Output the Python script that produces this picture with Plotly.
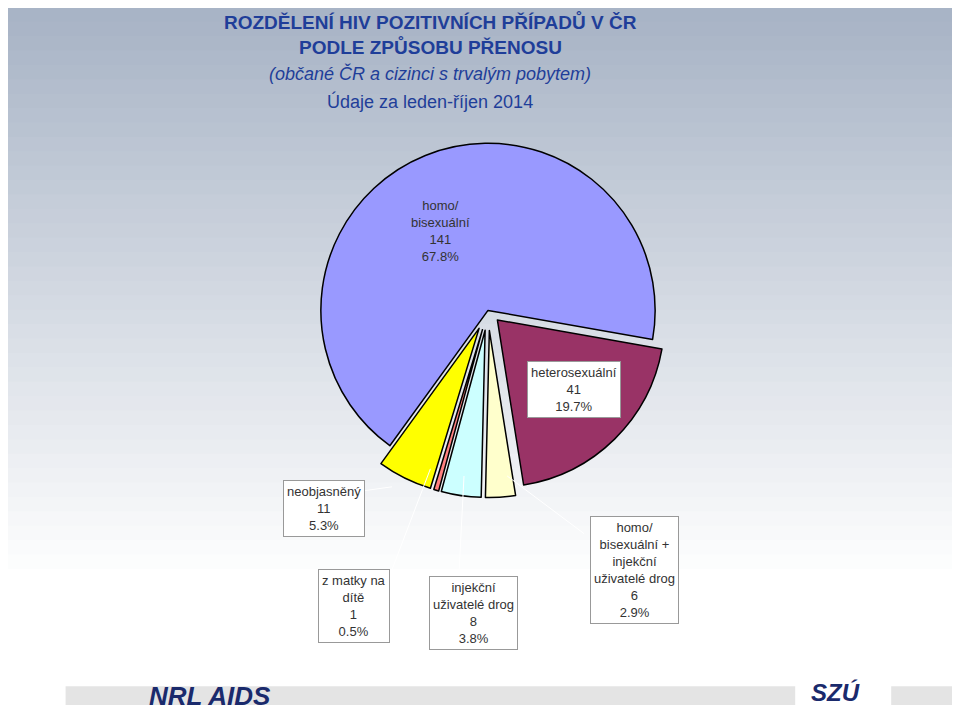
import plotly.graph_objects as go

labels = ["heterosexuální", "homo/bisexuální + injekční uživatelé drog", "injekční uživatelé drog",
          "z matky na dítě", "neobjasněný", "homo/bisexuální"]
values = [41, 6, 8, 1, 11, 141]
percents = ["19.7%", "2.9%", "3.8%", "0.5%", "5.3%", "67.8%"]
colors = ["#993366", "#FFFFCC", "#CCFFFF", "#FF8080", "#FFFF00", "#9999FF"]

fig = go.Figure()
fig.add_trace(go.Pie(labels=labels, values=values, sort=False, direction="clockwise", rotation=100,
                     marker=dict(colors=colors, line=dict(color="black", width=1.5)),
                     pull=[0.08, 0.12, 0.12, 0.12, 0.12, 0],
                     textinfo="none", hoverinfo="label+value+percent", showlegend=False,
                     domain=dict(x=[0.28, 0.72], y=[0.32, 0.84])))

shapes = []
n = 40
for i in range(n):
    t = i / (n - 1)
    r = int(0xA8 + (255 - 0xA8) * t); g = int(0xB4 + (255 - 0xB4) * t); b = int(0xC6 + (255 - 0xC6) * t)
    shapes.append(dict(type="rect", xref="paper", yref="paper", x0=0, x1=1,
                       y0=1 - (i + 1) / n * 0.8, y1=1 - i / n * 0.8 + 0.001,
                       fillcolor=f"rgb({r},{g},{b})", line=dict(width=0), layer="below"))
shapes.append(dict(type="rect", xref="paper", yref="paper", x0=0.06, x1=0.82, y0=0.032, y1=0.058,
                   fillcolor="#E4E4E4", line=dict(width=0), layer="below"))
shapes.append(dict(type="rect", xref="paper", yref="paper", x0=0.92, x1=1, y0=0.032, y1=0.058,
                   fillcolor="#E4E4E4", line=dict(width=0), layer="below"))
for (x0, y0, x1, y1) in [(0.32, 0.32, 0.40, 0.335), (0.40, 0.22, 0.44, 0.36),
                          (0.47, 0.22, 0.475, 0.35), (0.60, 0.27, 0.52, 0.35)]:
    shapes.append(dict(type="line", xref="paper", yref="paper", x0=x0, y0=y0, x1=x1, y1=y1,
                       line=dict(color="white", width=1)))

f = "Arial, Liberation Sans"
ann = [
    dict(x=0.44, y=0.998, text="<b>ROZDĚLENÍ HIV POZITIVNÍCH PŘÍPADŮ V ČR</b>", font=dict(size=19, color="#1F3E99")),
    dict(x=0.44, y=0.964, text="<b>PODLE ZPŮSOBU PŘENOSU</b>", font=dict(size=19, color="#1F3E99")),
    dict(x=0.44, y=0.926, text="<i>(občané ČR a cizinci s trvalým pobytem)</i>", font=dict(size=18, color="#1F3E99")),
    dict(x=0.44, y=0.888, text="Údaje za leden-říjen 2014", font=dict(size=18, color="#1F3E99")),
    dict(x=0.45, y=0.69, text="homo/<br>bisexuální<br>141<br>67.8%", font=dict(size=13, color="#333")),
    dict(x=0.59, y=0.47, text="heterosexuální<br>41<br>19.7%", font=dict(size=13, color="#333"),
         bgcolor="white", bordercolor="#999", borderpad=3),
    dict(x=0.286, y=0.305, text="neobjasněný<br>11<br>5.3%", font=dict(size=13, color="#333"),
         bgcolor="white", bordercolor="#999", borderpad=3),
    dict(x=0.36, y=0.17, text="z matky na<br>dítě<br>1<br>0.5%", font=dict(size=13, color="#333"),
         bgcolor="white", bordercolor="#999", borderpad=3),
    dict(x=0.485, y=0.16, text="injekční<br>uživatelé drog<br>8<br>3.8%", font=dict(size=13, color="#333"),
         bgcolor="white", bordercolor="#999", borderpad=3),
    dict(x=0.653, y=0.22, text="homo/<br>bisexuální +<br>injekční<br>uživatelé drog<br>6<br>2.9%",
         font=dict(size=13, color="#333"), bgcolor="white", bordercolor="#999", borderpad=3),
    dict(x=0.145, y=0.045, text="<b><i>NRL AIDS</i></b>", font=dict(size=26, color="#1A2A6C")),
    dict(x=0.89, y=0.05, text="<b><i>SZÚ</i></b>", font=dict(size=24, color="#1A2A6C")),
]
for a in ann:
    a.update(xref="paper", yref="paper", showarrow=False, yanchor="top" if a["y"] > 0.8 else "middle")
    a["font"]["family"] = f

fig.update_layout(width=960, height=720, margin=dict(l=0, r=0, t=0, b=0),
                  paper_bgcolor="white", shapes=shapes, annotations=ann)
fig.write_html("out.html")
